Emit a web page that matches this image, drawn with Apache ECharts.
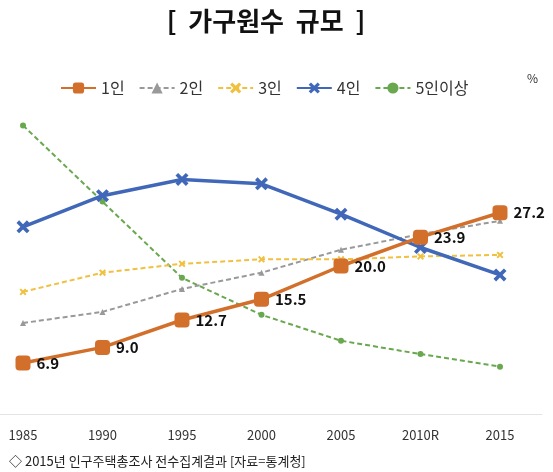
<!DOCTYPE html>
<html>
<head>
<meta charset="utf-8">
<script src="https://cdn.jsdelivr.net/npm/echarts@6/dist/echarts.min.js"></script>
<style>
  html, body { margin: 0; padding: 0; background: #fff; }
  #chart { width: 553px; height: 472px; }
</style>
</head>
<body>
<div id="chart"></div>
<script type="text/javascript">
  // 연도 (x축)
  var years = ['1985', '1990', '1995', '2000', '2005', '2010R', '2015'];
  // 가구원수별 비율 (%)
  var one = [6.9, 9.0, 12.7, 15.5, 20.0, 23.9, 27.2];
  var two = [12.3, 13.8, 16.9, 19.1, 22.2, 24.3, 26.1];
  var three = [16.5, 19.1, 20.3, 20.9, 20.9, 21.3, 21.5];
  var four = [25.3, 29.5, 31.7, 31.1, 27.0, 22.5, 18.8];
  var fivePlus = [39.0, 28.7, 18.4, 13.4, 9.9, 8.1, 6.4];

  var font = '"Noto Sans CJK KR", "Noto Sans", sans-serif';
  // X 모양 마커
  var crossPath = 'path://M2,0 L5,3 L8,0 L10,2 L7,5 L10,8 L8,10 L5,7 L2,10 L0,8 L3,5 L0,2 Z';

  var myChart = echarts.init(document.getElementById('chart'));

  var option = {
    backgroundColor: '#fff',
    animation: false,
    title: [{
      text: '[  가구원수  규모  ]',
      left: 261,
      top: 3,
      textAlign: 'center',
      textStyle: { fontFamily: font, fontSize: 26, fontWeight: 'bold', color: '#111' }
    }, {
      text: '%',
      left: 522,
      top: 67,
      textStyle: { fontFamily: font, fontSize: 12, fontWeight: 'normal', color: '#333' }
    }, {
      text: '◇ 2015년 인구주택총조사 전수집계결과 [자료=통계청]',
      left: 4,
      top: 450,
      textStyle: { fontFamily: font, fontSize: 13, fontWeight: 'normal', color: '#222' }
    }],
    legend: {
      left: 55,
      top: 75,
      itemWidth: 35,
      itemHeight: 14,
      itemGap: 14,
      textStyle: { fontFamily: font, fontSize: 16, color: '#333' },
      data: ['1인', '2인', '3인', '4인', '5인이상']
    },
    grid: [
      { left: 23, right: 53, top: 81, bottom: 58 },
      // 바닥 축선만 그리는 넓은 grid
      { left: 0, right: 11, top: 81, bottom: 58 }
    ],
    xAxis: [{
      type: 'category',
      gridIndex: 0,
      data: years,
      boundaryGap: false,
      axisLine: { show: false },
      axisTick: { show: false },
      axisLabel: { fontFamily: font, fontSize: 13, color: '#333', margin: 15 }
    }, {
      type: 'category',
      gridIndex: 1,
      data: [],
      axisLine: { lineStyle: { color: '#e3e3e3', width: 1 } },
      axisTick: { show: false },
      axisLabel: { show: false }
    }],
    yAxis: [{
      type: 'value',
      gridIndex: 0,
      min: 0,
      max: 45,
      show: false
    }, {
      type: 'value',
      gridIndex: 1,
      show: false
    }],
    series: [{
      name: '5인이상',
      type: 'line',
      data: fivePlus,
      symbol: 'circle',
      symbolSize: 6,
      color: '#6aa84f',
      lineStyle: { color: '#6aa84f', width: 2, type: [5, 3] },
      itemStyle: { color: '#6aa84f' },
      z: 2
    }, {
      name: '2인',
      type: 'line',
      data: two,
      symbol: 'triangle',
      symbolSize: 6,
      color: '#999',
      lineStyle: { color: '#999', width: 2, type: [5, 3] },
      itemStyle: { color: '#999' },
      z: 3
    }, {
      name: '3인',
      type: 'line',
      data: three,
      symbol: crossPath,
      symbolSize: 7,
      color: '#f0c040',
      lineStyle: { color: '#f0c040', width: 2, type: [5, 3] },
      itemStyle: { color: '#f0c040' },
      z: 3
    }, {
      name: '4인',
      type: 'line',
      data: four,
      symbol: crossPath,
      symbolSize: 13,
      color: '#4168b8',
      lineStyle: { color: '#4168b8', width: 3.5 },
      itemStyle: { color: '#4168b8' },
      z: 4
    }, {
      name: '1인',
      type: 'line',
      data: one,
      symbol: 'roundRect',
      symbolSize: 15,
      color: '#d2702b',
      lineStyle: { color: '#d2702b', width: 3.5 },
      itemStyle: { color: '#d2702b' },
      label: {
        show: true,
        position: 'right',
        distance: 6,
        fontFamily: font,
        fontSize: 15,
        fontWeight: 'bold',
        color: '#111',
        formatter: function (p) { return p.value.toFixed(1); }
      },
      z: 5
    }]
  };

  myChart.setOption(option);
</script>
</body>
</html>
